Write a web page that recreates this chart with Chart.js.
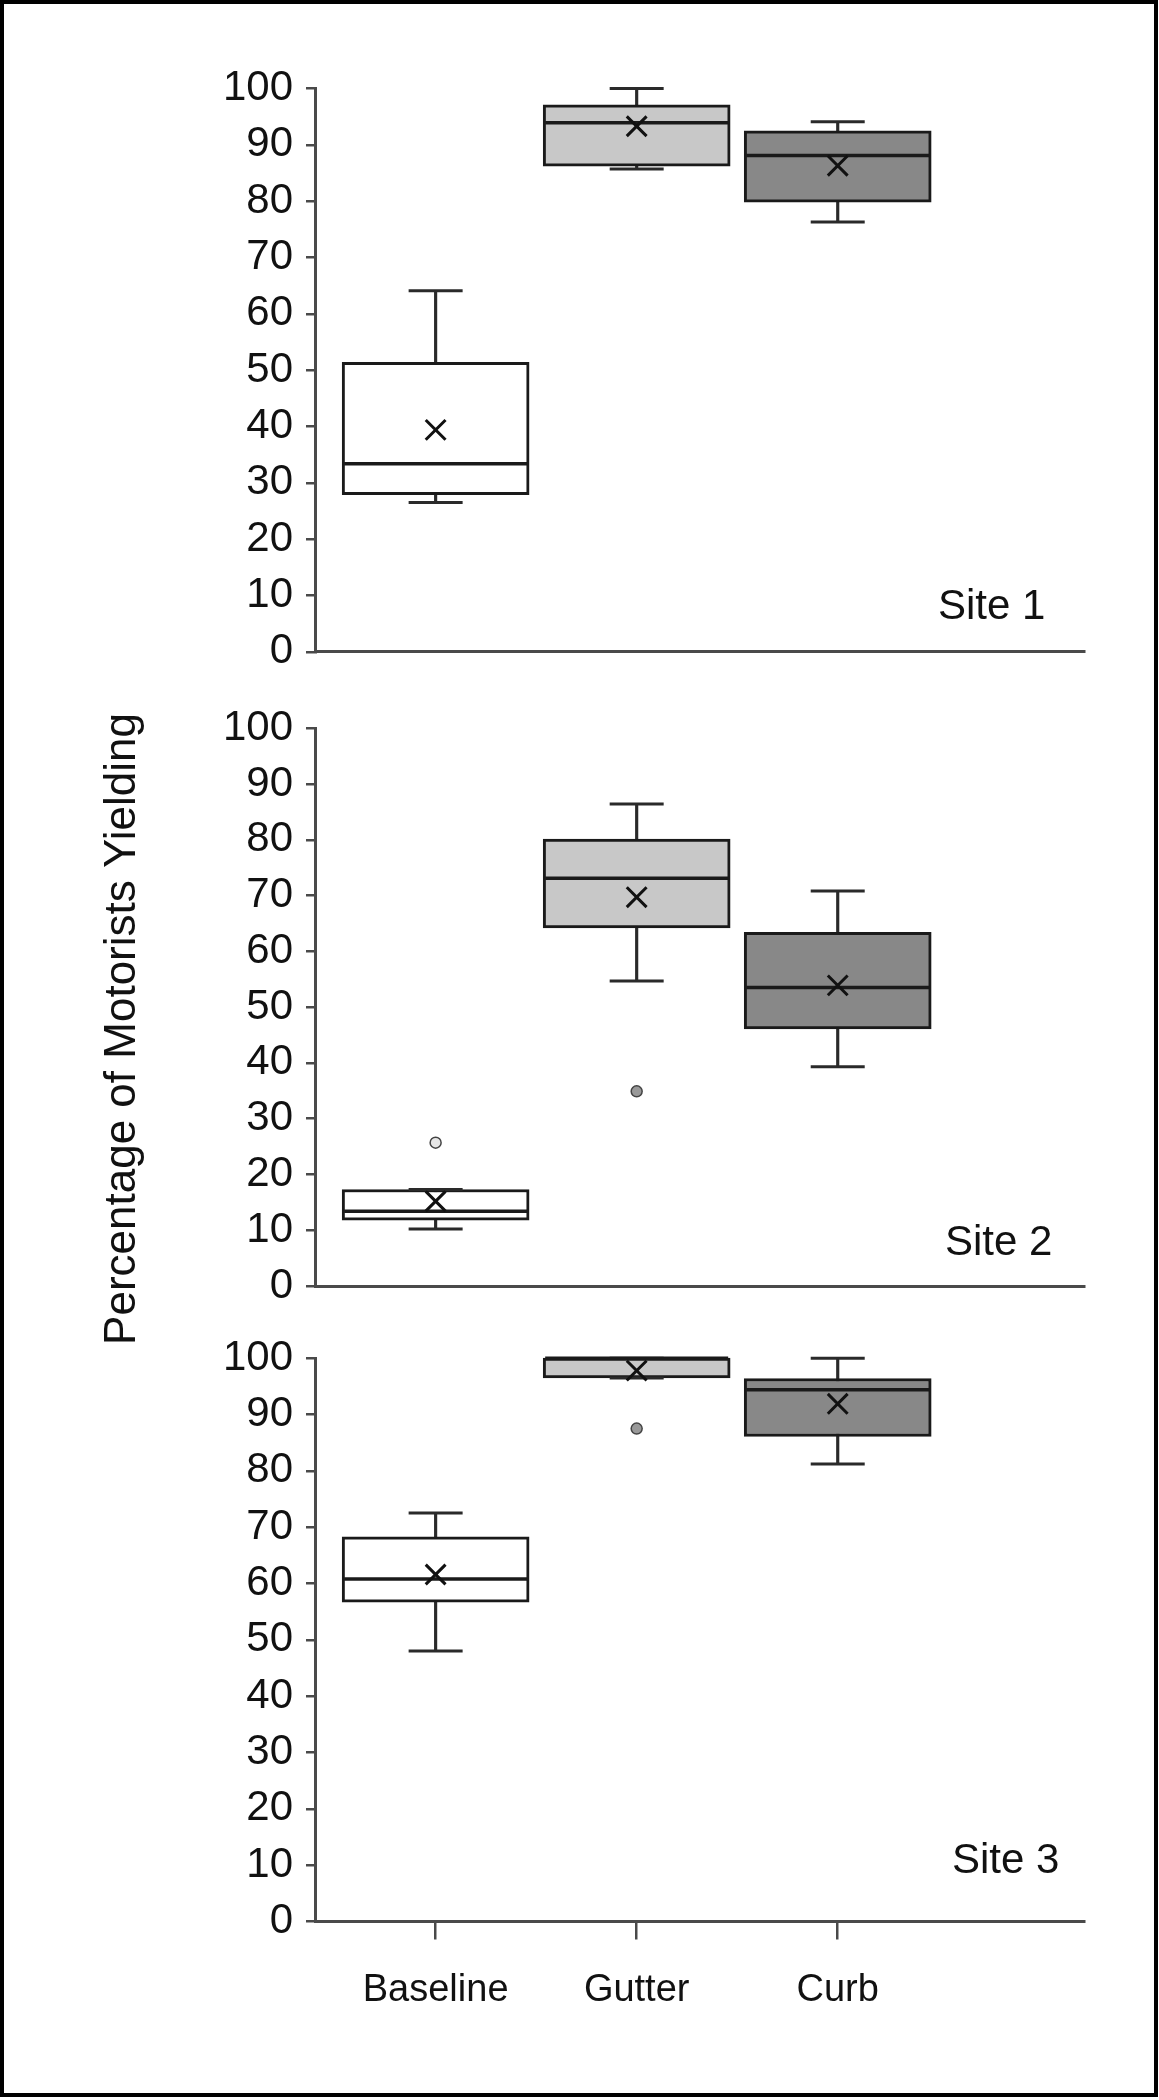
<!DOCTYPE html>
<html>
<head>
<meta charset="utf-8">
<script src="https://cdn.jsdelivr.net/npm/chart.js@4.4.0/dist/chart.umd.min.js"></script>
<style>
html,body{margin:0;padding:0;background:#fff;}
#page{position:relative;width:1159px;height:2100px;overflow:hidden;background:#fff;}
#page canvas{position:absolute;left:0;}
#frame{position:absolute;left:0;top:0;width:1158px;height:2097px;border:4px solid #000;box-sizing:border-box;pointer-events:none;}
</style>
</head>
<body>
<div id="page">
  <canvas id="c1" width="1159" height="690" style="top:0px"></canvas>
  <canvas id="c2" width="1159" height="680" style="top:690px"></canvas>
  <canvas id="c3" width="1159" height="778" style="top:1320px"></canvas>
  <div id="frame"></div>
</div>
<script>
// ---------------- DATA ----------------
const categories = ['Baseline', 'Gutter', 'Curb'];
const categoryX = [1, 2, 3];
const yTicks = [0, 10, 20, 30, 40, 50, 60, 70, 80, 90, 100];
const yAxisTitle = 'Percentage of Motorists Yielding';
const siteNames = ['Site 1', 'Site 2', 'Site 3'];

// Site 1
const site1WhiskerLow  = [26.5, 85.7, 76.3];
const site1Q1          = [27.9, 86.2, 79.8];
const site1Median      = [33.4, 93.9, 88.1];
const site1Q3          = [51.4, 97.1, 92.5];
const site1WhiskerHigh = [64.1, 100.0, 94.1];
const site1Mean        = [39.4, 93.3, 86.3];
const site1OutlierX    = [];
const site1OutlierY    = [];

// Site 2
const site2WhiskerLow  = [10.2, 54.7, 39.3];
const site2Q1          = [11.8, 64.2, 46.1];
const site2Median      = [13.4, 73.1, 53.5];
const site2Q3          = [17.3, 80.1, 63.4];
const site2WhiskerHigh = [17.3, 86.4, 70.8];
const site2Mean        = [15.2, 69.7, 53.9];
const site2OutlierX    = [1, 2];
const site2OutlierY    = [25.7, 34.9];

// Site 3
const site3WhiskerLow  = [48.0, 96.5, 81.2];
const site3Q1          = [56.7, 96.5, 86.1];
const site3Median      = [60.8, 100.0, 94.4];
const site3Q3          = [68.3, 100.0, 96.4];
const site3WhiskerHigh = [72.5, 100.0, 100.0];
const site3Mean        = [61.6, 97.8, 91.9];
const site3OutlierX    = [2];
const site3OutlierY    = [87.5];

// ---------------- STYLE ----------------
const FONT = '"Liberation Sans", Arial, Helvetica, sans-serif';
Chart.defaults.font.family = FONT;
Chart.defaults.color = '#111';
const boxFill = ['#ffffff', '#c8c8c8', '#888888'];
const outlierFill = ['#e6e6e6', '#999999', '#999999'];
const AXIS = '#4a4a4a';

const siteLabelPlugin = {
  id: 'siteLabel',
  afterDraw(chart, args, opts) {
    if (!opts || !opts.text) return;
    const ctx = chart.ctx, a = chart.chartArea;
    ctx.save();
    ctx.font = '42px ' + FONT;
    ctx.fillStyle = '#111';
    ctx.textAlign = 'left';
    ctx.textBaseline = 'alphabetic';
    ctx.fillText(opts.text, opts.left, a.bottom - opts.rise);
    ctx.restore();
  }
};

const yTitlePlugin = {
  id: 'yTitle',
  afterDraw(chart, args, opts) {
    if (!opts || !opts.text) return;
    const ctx = chart.ctx;
    ctx.save();
    ctx.font = '44px ' + FONT;
    ctx.fillStyle = '#111';
    ctx.translate(opts.x, opts.y);
    ctx.rotate(-Math.PI / 2);
    ctx.textAlign = 'center';
    ctx.textBaseline = 'alphabetic';
    ctx.fillText(opts.text, 0, 0);
    ctx.restore();
  }
};

function makePanel(canvasId, p) {
  const whiskerData = categoryX.map((x, i) => ({x, y: [p.lo[i], p.hi[i]]}));
  const boxData = categoryX.map((x, i) => ({x, y: [p.q1[i], p.q3[i]]}));
  const medianData = categoryX.map((x, i) => ({x, y: p.median[i]}));
  const capData = [];
  categoryX.forEach((x, i) => { capData.push({x, y: p.lo[i]}); capData.push({x, y: p.hi[i]}); });
  const meanData = categoryX.map((x, i) => ({x, y: p.mean[i]}));
  const outlierData = p.outX.map((x, i) => ({x, y: p.outY[i]}));
  const outColors = p.outX.map(x => outlierFill[categoryX.indexOf(x)]);

  return new Chart(document.getElementById(canvasId), {
    type: 'bar',
    data: {
      datasets: [
        { type: 'bar', data: whiskerData, order: 6, grouped: false, barThickness: 2.5,
          backgroundColor: '#2a2a2a', borderWidth: 0, clip: false },
        { type: 'bar', data: boxData, order: 5, grouped: false, barThickness: 187,
          backgroundColor: boxFill, borderColor: '#1a1a1a', borderWidth: 3,
          borderSkipped: false, clip: false },
        { type: 'scatter', data: capData, order: 4, pointStyle: 'line', pointRadius: 27,
          pointBorderWidth: 3, pointBorderColor: '#2a2a2a', clip: false },
        { type: 'scatter', data: medianData, order: 3, pointStyle: 'line', pointRadius: 91.5,
          pointBorderWidth: 3.5, pointBorderColor: '#1a1a1a', clip: false },
        { type: 'scatter', data: outlierData, order: 2, pointStyle: 'circle', pointRadius: 5.5,
          pointBackgroundColor: outColors, pointBorderColor: '#444', pointBorderWidth: 1.5, clip: false },
        { type: 'scatter', data: meanData, order: 1, pointStyle: 'crossRot', pointRadius: 14,
          pointBorderWidth: 3, pointBorderColor: '#111', clip: false }
      ]
    },
    options: {
      responsive: false,
      animation: false,
      devicePixelRatio: 1,
      events: [],
      layout: { autoPadding: false, padding: { top: p.padTop, right: 75, bottom: p.padBottom, left: 0 } },
      plugins: {
        legend: { display: false },
        tooltip: { enabled: false },
        siteLabel: { text: p.site, left: p.siteLeft, rise: p.siteRise },
        yTitle: p.title || {}
      },
      scales: {
        x: {
          type: 'linear', min: 0.4, max: 4.225, bounds: 'data', offset: false,
          afterBuildTicks: s => { s.ticks = categoryX.map(v => ({value: v})); },
          afterFit: s => { s.height = p.xAxisHeight; },
          ticks: {
            display: p.showLabels, autoSkip: false, maxRotation: 0, minRotation: 0,
            padding: 28, color: '#111', font: { size: 38 },
            callback: v => { const k = categoryX.indexOf(v); return k >= 0 ? categories[k] : ''; }
          },
          grid: { display: p.showLabels, offset: false, drawOnChartArea: false, drawTicks: true,
                  tickLength: 18, color: AXIS, lineWidth: 2.5 },
          border: { display: true, color: AXIS, width: 3 }
        },
        y: {
          type: 'linear', min: 0, max: 100,
          afterBuildTicks: s => { s.ticks = yTicks.map(v => ({value: v})); },
          afterFit: s => { s.width = 315; },
          ticks: { autoSkip: false, padding: 13, color: '#111', font: { size: 42 } },
          grid: { drawOnChartArea: false, drawTicks: true, tickLength: 9, color: AXIS, lineWidth: 2.5 },
          border: { display: true, color: AXIS, width: 3 }
        }
      }
    },
    plugins: [siteLabelPlugin, yTitlePlugin]
  });
}

makePanel('c1', {
  lo: site1WhiskerLow, q1: site1Q1, median: site1Median, q3: site1Q3, hi: site1WhiskerHigh,
  mean: site1Mean, outX: site1OutlierX, outY: site1OutlierY,
  padTop: 88.5, padBottom: 0, xAxisHeight: 34.5, showLabels: false,
  site: siteNames[0], siteLeft: 938, siteRise: 32.5
});
makePanel('c2', {
  lo: site2WhiskerLow, q1: site2Q1, median: site2Median, q3: site2Q3, hi: site2WhiskerHigh,
  mean: site2Mean, outX: site2OutlierX, outY: site2OutlierY,
  padTop: 34, padBottom: 50, xAxisHeight: 34, showLabels: false,
  site: siteNames[1], siteLeft: 945, siteRise: 31,
  title: { text: yAxisTitle, x: 135, y: 339 }
});
makePanel('c3', {
  lo: site3WhiskerLow, q1: site3Q1, median: site3Median, q3: site3Q3, hi: site3WhiskerHigh,
  mean: site3Mean, outX: site3OutlierX, outY: site3OutlierY,
  padTop: 36, padBottom: 0, xAxisHeight: 176.5, showLabels: true,
  site: siteNames[2], siteLeft: 952, siteRise: 48.5
});
</script>
</body>
</html>
